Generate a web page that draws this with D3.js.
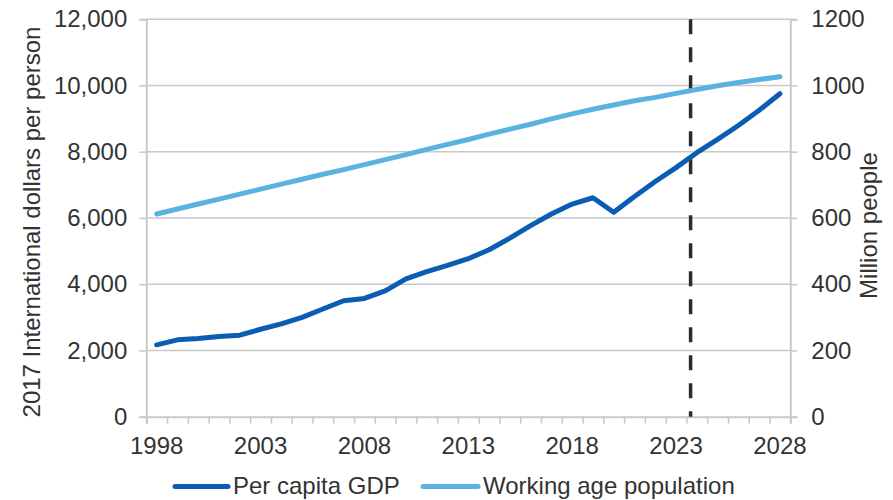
<!DOCTYPE html>
<html>
<head>
<meta charset="utf-8">
<script src="https://cdn.jsdelivr.net/npm/d3@7"></script>
<style>
  html, body { margin: 0; padding: 0; background: #fff; }
  svg { display: block; font-family: "Liberation Sans", Arial, sans-serif; }
</style>
</head>
<body>
<svg id="chart" width="893" height="500"></svg>
<script>
// Years on the category axis
const years = d3.range(1998, 2029);

// Per capita GDP, 2017 international dollars per person
const gdpPerCapita = [2170, 2320, 2360, 2420, 2460, 2640, 2800, 3000, 3250, 3500,
                      3570, 3800, 4160, 4380, 4570, 4770, 5040, 5390, 5770, 6120,
                      6420, 6610, 6170, 6650, 7100, 7520, 7970, 8370, 8790, 9250, 9750];

// Working age population, million people
const workingAgePop = [612, 627, 642, 657, 672, 687, 702, 717, 732, 746,
                       761, 776, 791, 807, 822, 837, 853, 868, 883, 899,
                       914, 928, 941, 954, 964, 976, 988, 999, 1009, 1018, 1026];

// Axis tick labels
const leftTicks = [0, 2000, 4000, 6000, 8000, 10000, 12000];
const rightTicks = [0, 200, 400, 600, 800, 1000, 1200];
const yearLabels = [1998, 2003, 2008, 2013, 2018, 2023, 2028];

// Start of the projection period
const projectionStart = 2023.7;

const seriesNames = ["Per capita GDP", "Working age population"];
const colors = { gdp: "#0a5db3", pop: "#5ab3df" };

const svg = d3.select("#chart");
const plotLeft = 146.3, plotRight = 790.3, plotTop = 19.2, plotBottom = 416.7;
const textColor = "#333333";
const gridColor = "#c8c9cb";

const x = d3.scaleLinear().domain([years[0] - 0.5, years[years.length - 1] + 0.5]).range([plotLeft, plotRight]);
const yL = d3.scaleLinear().domain([0, 12000]).range([plotBottom, plotTop]);
const yR = d3.scaleLinear().domain([0, 1200]).range([plotBottom, plotTop]);

// Horizontal gridlines
svg.append("g")
  .selectAll("line")
  .data(leftTicks.filter(d => d > 0))
  .join("line")
  .attr("x1", plotLeft).attr("x2", plotRight)
  .attr("y1", d => yL(d)).attr("y2", d => yL(d))
  .attr("stroke", gridColor).attr("stroke-width", 1.6);

// Left axis
const axL = svg.append("g")
  .attr("transform", `translate(${plotLeft},0)`)
  .call(d3.axisLeft(yL).tickValues(leftTicks).tickSize(7).tickPadding(12)
    .tickFormat(d3.format(",")));
// Right axis
const axR = svg.append("g")
  .attr("transform", `translate(${plotRight},0)`)
  .call(d3.axisRight(yR).tickValues(rightTicks).tickSize(7).tickPadding(14)
    .tickFormat(d3.format("d")));
// Bottom axis: ticks between the years, labels every five years
const boundaries = d3.range(years[0] - 0.5, years[years.length - 1] + 1, 1);
const axB = svg.append("g")
  .attr("transform", `translate(0,${plotBottom})`)
  .call(d3.axisBottom(x).tickValues(boundaries).tickSize(7).tickFormat(""));
svg.append("g")
  .selectAll("text")
  .data(yearLabels)
  .join("text")
  .attr("x", d => x(d))
  .attr("y", 454)
  .attr("text-anchor", "middle")
  .attr("font-size", 24)
  .attr("fill", textColor)
  .text(d => d);

[axL, axR, axB].forEach(ax => {
  ax.select(".domain").attr("stroke", gridColor).attr("stroke-width", 2);
  ax.selectAll(".tick line").attr("stroke", gridColor).attr("stroke-width", 1.6);
  ax.selectAll(".tick text").attr("fill", textColor).attr("font-size", 24)
    .attr("font-family", "Liberation Sans, Arial, sans-serif");
});

// Projection marker
svg.append("line")
  .attr("x1", x(projectionStart)).attr("x2", x(projectionStart))
  .attr("y1", yL(12000)).attr("y2", plotBottom)
  .attr("stroke", "#2b2b2b").attr("stroke-width", 3.5)
  .attr("stroke-dasharray", "15,13");

// Series lines
const lineL = d3.line().x((d, i) => x(years[i])).y(d => yL(d));
const lineR = d3.line().x((d, i) => x(years[i])).y(d => yR(d));

svg.append("path")
  .datum(workingAgePop)
  .attr("d", lineR)
  .attr("fill", "none").attr("stroke", colors.pop)
  .attr("stroke-width", 5).attr("stroke-linecap", "round").attr("stroke-linejoin", "round");

svg.append("path")
  .datum(gdpPerCapita)
  .attr("d", lineL)
  .attr("fill", "none").attr("stroke", colors.gdp)
  .attr("stroke-width", 5).attr("stroke-linecap", "round").attr("stroke-linejoin", "round");

// Axis titles
svg.append("text")
  .attr("transform", `translate(40,222) rotate(-90)`)
  .attr("text-anchor", "middle")
  .attr("font-size", 24).attr("fill", textColor)
  .text("2017 International dollars per person");
svg.append("text")
  .attr("transform", `translate(877,225.5) rotate(-90)`)
  .attr("text-anchor", "middle")
  .attr("font-size", 24).attr("fill", textColor)
  .text("Million people");

// Legend
const legendItems = [
  { name: seriesNames[0], color: colors.gdp, x0: 175, x1: 228, tx: 233 },
  { name: seriesNames[1], color: colors.pop, x0: 423, x1: 478, tx: 483 }
];
const lg = svg.append("g");
legendItems.forEach(it => {
  lg.append("line")
    .attr("x1", it.x0).attr("x2", it.x1).attr("y1", 486.5).attr("y2", 486.5)
    .attr("stroke", it.color).attr("stroke-width", 5).attr("stroke-linecap", "round");
  lg.append("text")
    .attr("x", it.tx).attr("y", 494)
    .attr("font-size", 24).attr("fill", textColor)
    .text(it.name);
});
</script>
</body>
</html>
